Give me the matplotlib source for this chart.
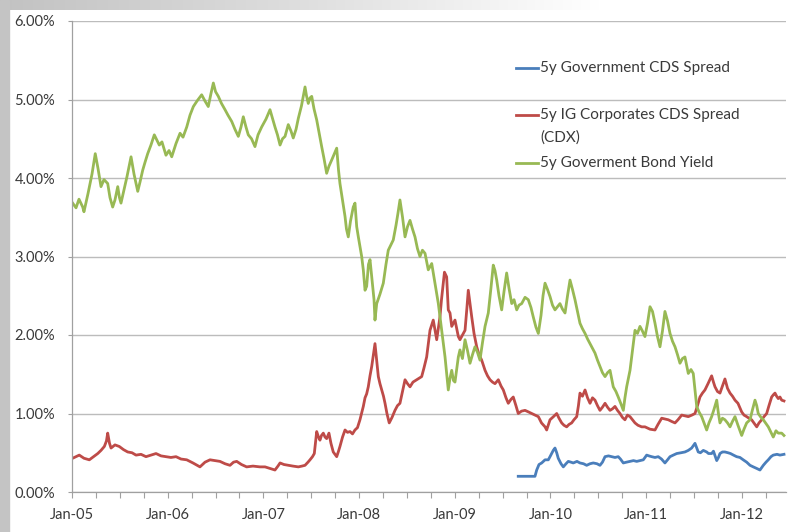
import matplotlib
matplotlib.use("Agg")
import numpy as np
import matplotlib.pyplot as plt
from matplotlib.colors import LinearSegmentedColormap
from matplotlib.ticker import FixedLocator, FuncFormatter

plt.rcParams['font.family'] = ['Lato', 'DejaVu Sans']

# --- data (time in decimal years, values in %) ---
gov_cds_t = [2009.663, 2009.754, 2009.838, 2009.856, 2009.880, 2009.908, 2009.943, 2009.977,
             2009.995, 2010.029, 2010.047, 2010.065, 2010.081, 2010.110, 2010.134, 2010.162,
             2010.186, 2010.214, 2010.238, 2010.277, 2010.308, 2010.345, 2010.378, 2010.413,
             2010.447, 2010.486, 2010.517, 2010.543, 2010.570, 2010.606, 2010.640, 2010.674,
             2010.708, 2010.731, 2010.761, 2010.794, 2010.831, 2010.867, 2010.901, 2010.935,
             2010.970, 2011.005, 2011.029, 2011.057, 2011.092, 2011.126, 2011.160, 2011.196,
             2011.223, 2011.249, 2011.283, 2011.319, 2011.364, 2011.405, 2011.440, 2011.475,
             2011.510, 2011.544, 2011.567, 2011.597, 2011.632, 2011.651, 2011.684, 2011.703,
             2011.737, 2011.755, 2011.771, 2011.797, 2011.823, 2011.855, 2011.881, 2011.912,
             2011.945, 2011.980, 2012.014, 2012.050, 2012.085, 2012.119, 2012.155, 2012.189,
             2012.224, 2012.252, 2012.276, 2012.304, 2012.328, 2012.367, 2012.398, 2012.440]
gov_cds = [0.20, 0.20, 0.20, 0.28, 0.35, 0.37, 0.41, 0.41,
           0.45, 0.53, 0.56, 0.50, 0.43, 0.36, 0.32, 0.36,
           0.39, 0.38, 0.37, 0.39, 0.37, 0.36, 0.34, 0.36,
           0.37, 0.36, 0.34, 0.38, 0.45, 0.46, 0.45, 0.44,
           0.45, 0.42, 0.37, 0.38, 0.39, 0.40, 0.39, 0.40,
           0.41, 0.47, 0.46, 0.45, 0.44, 0.45, 0.42, 0.37,
           0.41, 0.45, 0.47, 0.49, 0.50, 0.51, 0.53, 0.56,
           0.62, 0.51, 0.50, 0.53, 0.51, 0.49, 0.49, 0.52,
           0.40, 0.44, 0.49, 0.51, 0.51, 0.50, 0.49, 0.47,
           0.45, 0.44, 0.41, 0.38, 0.34, 0.32, 0.30, 0.28,
           0.34, 0.38, 0.41, 0.45, 0.47, 0.48, 0.47, 0.48]

cdx_t = [2005.007, 2005.042, 2005.076, 2005.125, 2005.181, 2005.225, 2005.269, 2005.303,
         2005.338, 2005.360, 2005.373, 2005.392, 2005.408, 2005.449, 2005.494, 2005.538,
         2005.582, 2005.627, 2005.669, 2005.721, 2005.773, 2005.825, 2005.878, 2005.930,
         2005.982, 2006.034, 2006.087, 2006.139, 2006.199, 2006.264, 2006.337, 2006.390,
         2006.442, 2006.494, 2006.546, 2006.599, 2006.651, 2006.688, 2006.721, 2006.771,
         2006.825, 2006.891, 2006.964, 2007.017, 2007.069, 2007.121, 2007.152, 2007.174,
         2007.215, 2007.260, 2007.309, 2007.365, 2007.403, 2007.435, 2007.466, 2007.487,
         2007.513, 2007.532, 2007.544, 2007.557, 2007.576, 2007.591, 2007.607, 2007.626,
         2007.644, 2007.661, 2007.685, 2007.706, 2007.730, 2007.766, 2007.785, 2007.800,
         2007.827, 2007.853, 2007.879, 2007.905, 2007.931, 2007.957, 2007.983, 2008.009,
         2008.030, 2008.044, 2008.062, 2008.079, 2008.096, 2008.114, 2008.132, 2008.150,
         2008.166, 2008.182, 2008.201, 2008.218, 2008.236, 2008.255, 2008.271, 2008.291,
         2008.315, 2008.344, 2008.375, 2008.401, 2008.427, 2008.454, 2008.480, 2008.506,
         2008.532, 2008.563, 2008.602, 2008.626, 2008.654, 2008.678, 2008.706, 2008.725,
         2008.741, 2008.775, 2008.811, 2008.845, 2008.861, 2008.880, 2008.892, 2008.915,
         2008.932, 2008.950, 2008.968, 2009.002, 2009.037, 2009.054, 2009.080, 2009.107,
         2009.127, 2009.141, 2009.159, 2009.177, 2009.201, 2009.229, 2009.253, 2009.281,
         2009.316, 2009.342, 2009.368, 2009.394, 2009.420, 2009.455, 2009.483, 2009.507,
         2009.535, 2009.559, 2009.587, 2009.611, 2009.639, 2009.663, 2009.697, 2009.734,
         2009.770, 2009.803, 2009.838, 2009.873, 2009.906, 2009.943, 2009.960, 2009.995,
         2010.031, 2010.065, 2010.089, 2010.117, 2010.141, 2010.169, 2010.193, 2010.221,
         2010.245, 2010.274, 2010.292, 2010.308, 2010.334, 2010.361, 2010.387, 2010.413,
         2010.439, 2010.465, 2010.491, 2010.517, 2010.543, 2010.570, 2010.596, 2010.622,
         2010.648, 2010.674, 2010.700, 2010.726, 2010.752, 2010.778, 2010.804, 2010.831,
         2010.857, 2010.883, 2010.914, 2010.953, 2010.987, 2011.040, 2011.092, 2011.123,
         2011.162, 2011.196, 2011.231, 2011.264, 2011.301, 2011.332, 2011.371, 2011.405,
         2011.440, 2011.478, 2011.510, 2011.536, 2011.562, 2011.588, 2011.614, 2011.646,
         2011.684, 2011.703, 2011.719, 2011.745, 2011.771, 2011.797, 2011.823, 2011.850,
         2011.876, 2011.902, 2011.928, 2011.959, 2011.998, 2012.022, 2012.050, 2012.074,
         2012.102, 2012.126, 2012.155, 2012.179, 2012.207, 2012.231, 2012.259, 2012.283,
         2012.311, 2012.330, 2012.346, 2012.363, 2012.380, 2012.398, 2012.416, 2012.440]
cdx = [0.43, 0.45, 0.47, 0.43, 0.41, 0.45, 0.49, 0.53,
       0.58, 0.65, 0.75, 0.62, 0.56, 0.60, 0.58, 0.54,
       0.51, 0.50, 0.47, 0.48, 0.45, 0.47, 0.49, 0.46,
       0.45, 0.44, 0.45, 0.42, 0.41, 0.37, 0.32, 0.38,
       0.41, 0.40, 0.39, 0.36, 0.34, 0.38, 0.39, 0.35,
       0.32, 0.33, 0.32, 0.32, 0.30, 0.28, 0.33, 0.37,
       0.35, 0.34, 0.33, 0.32, 0.33, 0.34, 0.38, 0.41,
       0.45, 0.49, 0.62, 0.77, 0.70, 0.66, 0.72, 0.75,
       0.70, 0.68, 0.75, 0.62, 0.51, 0.45, 0.52, 0.58,
       0.70, 0.79, 0.76, 0.77, 0.74, 0.79, 0.82, 0.92,
       1.02, 1.09, 1.20, 1.25, 1.34, 1.48, 1.60, 1.75,
       1.89, 1.70, 1.47, 1.38, 1.30, 1.22, 1.13, 1.00,
       0.88, 0.95, 1.04, 1.10, 1.13, 1.28, 1.43, 1.38,
       1.34, 1.40, 1.43, 1.45, 1.47, 1.58, 1.72, 1.90,
       2.06, 2.19, 1.94, 2.23, 2.45, 2.66, 2.80, 2.74,
       2.32, 2.28, 2.11, 2.19, 1.98, 1.94, 2.00, 2.06,
       2.35, 2.57, 2.40, 2.23, 2.02, 1.85, 1.75, 1.68,
       1.55, 1.48, 1.43, 1.40, 1.38, 1.43, 1.35, 1.30,
       1.20, 1.13, 1.18, 1.21, 1.10, 1.00, 1.03, 1.04,
       1.02, 1.00, 0.98, 0.96, 0.88, 0.83, 0.79, 0.92,
       0.96, 1.00, 0.94, 0.88, 0.85, 0.83, 0.86, 0.88,
       0.92, 0.96, 1.10, 1.26, 1.22, 1.30, 1.20, 1.13,
       1.20, 1.17, 1.10, 1.04, 1.08, 1.13, 1.08, 1.04,
       1.06, 1.09, 1.04, 1.00, 0.95, 0.92, 0.98, 0.96,
       0.92, 0.88, 0.85, 0.83, 0.83, 0.80, 0.79, 0.86,
       0.94, 0.93, 0.92, 0.90, 0.88, 0.92, 0.98, 0.97,
       0.96, 0.98, 1.00, 1.10, 1.21, 1.26, 1.30, 1.38,
       1.48, 1.40, 1.34, 1.28, 1.26, 1.35, 1.44, 1.32,
       1.26, 1.22, 1.17, 1.13, 1.02, 0.98, 0.96, 0.94,
       0.92, 0.88, 0.83, 0.88, 0.92, 0.96, 1.00, 1.10,
       1.21, 1.24, 1.26, 1.22, 1.19, 1.21, 1.17, 1.16]

bond_t = [2005.007, 2005.042, 2005.073, 2005.112, 2005.125, 2005.167, 2005.209, 2005.243,
          2005.272, 2005.303, 2005.334, 2005.373, 2005.397, 2005.425, 2005.449, 2005.478,
          2005.496, 2005.512, 2005.543, 2005.575, 2005.617, 2005.648, 2005.687, 2005.711,
          2005.739, 2005.763, 2005.791, 2005.825, 2005.860, 2005.888, 2005.912, 2005.940,
          2005.982, 2006.014, 2006.042, 2006.087, 2006.129, 2006.160, 2006.199, 2006.233,
          2006.268, 2006.306, 2006.355, 2006.390, 2006.424, 2006.453, 2006.477, 2006.500,
          2006.529, 2006.562, 2006.599, 2006.630, 2006.669, 2006.703, 2006.738, 2006.766,
          2006.790, 2006.818, 2006.842, 2006.876, 2006.912, 2006.944, 2006.982, 2007.027,
          2007.069, 2007.095, 2007.121, 2007.147, 2007.174, 2007.200, 2007.226, 2007.260,
          2007.288, 2007.312, 2007.341, 2007.365, 2007.398, 2007.435, 2007.450, 2007.469,
          2007.487, 2007.505, 2007.529, 2007.557, 2007.581, 2007.609, 2007.633, 2007.661,
          2007.685, 2007.714, 2007.738, 2007.766, 2007.785, 2007.800, 2007.827, 2007.853,
          2007.868, 2007.887, 2007.910, 2007.939, 2007.957, 2007.975, 2007.992, 2008.027,
          2008.044, 2008.062, 2008.079, 2008.098, 2008.114, 2008.132, 2008.156, 2008.166,
          2008.184, 2008.218, 2008.253, 2008.281, 2008.305, 2008.333, 2008.357, 2008.386,
          2008.406, 2008.427, 2008.454, 2008.480, 2008.506, 2008.532, 2008.558, 2008.584,
          2008.610, 2008.636, 2008.662, 2008.689, 2008.723, 2008.759, 2008.793, 2008.828,
          2008.863, 2008.898, 2008.932, 2008.950, 2008.968, 2008.986, 2009.002, 2009.037,
          2009.054, 2009.080, 2009.107, 2009.133, 2009.159, 2009.185, 2009.211, 2009.237,
          2009.263, 2009.289, 2009.316, 2009.350, 2009.378, 2009.402, 2009.420, 2009.438,
          2009.462, 2009.490, 2009.514, 2009.542, 2009.566, 2009.595, 2009.619, 2009.647,
          2009.671, 2009.699, 2009.734, 2009.768, 2009.796, 2009.820, 2009.848, 2009.873,
          2009.901, 2009.922, 2009.943, 2009.969, 2009.995, 2010.021, 2010.047, 2010.073,
          2010.099, 2010.125, 2010.152, 2010.178, 2010.204, 2010.230, 2010.256, 2010.282,
          2010.308, 2010.334, 2010.361, 2010.387, 2010.413, 2010.439, 2010.465, 2010.491,
          2010.517, 2010.543, 2010.570, 2010.596, 2010.622, 2010.656, 2010.684, 2010.708,
          2010.737, 2010.761, 2010.778, 2010.796, 2010.831, 2010.857, 2010.883, 2010.909,
          2010.935, 2010.961, 2010.987, 2011.014, 2011.040, 2011.066, 2011.092, 2011.118,
          2011.144, 2011.170, 2011.196, 2011.223, 2011.249, 2011.275, 2011.301, 2011.327,
          2011.353, 2011.379, 2011.405, 2011.440, 2011.468, 2011.492, 2011.510, 2011.528,
          2011.552, 2011.580, 2011.604, 2011.632, 2011.656, 2011.684, 2011.708, 2011.737,
          2011.755, 2011.771, 2011.797, 2011.823, 2011.850, 2011.876, 2011.902, 2011.928,
          2011.959, 2011.998, 2012.022, 2012.050, 2012.085, 2012.111, 2012.137, 2012.155,
          2012.171, 2012.200, 2012.224, 2012.247, 2012.276, 2012.304, 2012.328, 2012.356,
          2012.380, 2012.416, 2012.440]
bond = [3.68, 3.62, 3.73, 3.63, 3.57, 3.80, 4.05, 4.31,
        4.12, 3.89, 3.98, 3.93, 3.75, 3.63, 3.72, 3.89,
        3.75, 3.68, 3.85, 4.02, 4.27, 4.05, 3.83, 3.95,
        4.10, 4.20, 4.31, 4.42, 4.55, 4.48, 4.42, 4.46,
        4.29, 4.35, 4.27, 4.44, 4.57, 4.52, 4.65, 4.80,
        4.91, 4.98, 5.06, 4.98, 4.91, 5.08, 5.21, 5.10,
        5.04, 4.95, 4.87, 4.80, 4.72, 4.62, 4.53, 4.65,
        4.78, 4.65, 4.55, 4.50, 4.40, 4.55, 4.65, 4.75,
        4.87, 4.76, 4.65, 4.55, 4.42, 4.50, 4.53, 4.68,
        4.60, 4.51, 4.62, 4.76, 4.92, 5.16, 5.05, 4.95,
        5.02, 5.04, 4.88, 4.74, 4.58, 4.40, 4.25, 4.06,
        4.15, 4.23, 4.30, 4.38, 4.10, 3.93, 3.72, 3.51,
        3.35, 3.25, 3.45, 3.63, 3.68, 3.38, 3.25, 3.00,
        2.83, 2.57, 2.62, 2.90, 2.96, 2.74, 2.45, 2.19,
        2.40, 2.52, 2.66, 2.90, 3.08, 3.15, 3.21, 3.40,
        3.55, 3.72, 3.50, 3.25, 3.38, 3.46, 3.35, 3.25,
        3.10, 3.00, 3.08, 3.04, 2.83, 2.91, 2.66, 2.40,
        2.06, 1.72, 1.30, 1.45, 1.55, 1.42, 1.40, 1.72,
        1.81, 1.70, 1.94, 1.80, 1.64, 1.75, 1.85, 1.78,
        1.68, 1.90, 2.11, 2.28, 2.60, 2.89, 2.82, 2.70,
        2.50, 2.32, 2.55, 2.79, 2.60, 2.40, 2.45, 2.32,
        2.38, 2.40, 2.48, 2.45, 2.35, 2.23, 2.10, 2.02,
        2.25, 2.50, 2.66, 2.58, 2.49, 2.38, 2.32, 2.36,
        2.40, 2.33, 2.28, 2.50, 2.70, 2.58, 2.45, 2.30,
        2.15, 2.08, 2.02, 1.95, 1.89, 1.83, 1.77, 1.68,
        1.60, 1.52, 1.47, 1.52, 1.55, 1.34, 1.28, 1.21,
        1.12, 1.04, 1.20, 1.34, 1.55, 1.80, 2.06, 2.02,
        2.11, 2.05, 1.98, 2.15, 2.36, 2.30, 2.15, 1.98,
        1.85, 2.05, 2.30, 2.18, 2.02, 1.92, 1.85, 1.75,
        1.64, 1.70, 1.72, 1.51, 1.56, 1.51, 1.30, 1.09,
        1.02, 0.96, 0.88, 0.79, 0.88, 0.96, 1.05, 1.17,
        1.00, 0.88, 0.94, 0.92, 0.88, 0.83, 0.90, 0.96,
        0.85, 0.72, 0.80, 0.88, 0.92, 1.05, 1.17, 1.10,
        1.00, 0.95, 0.92, 0.88, 0.83, 0.76, 0.70, 0.78,
        0.75, 0.75, 0.72]

series_labels = ['5y Government CDS Spread',
                 '5y IG Corporates CDS Spread\n(CDX)',
                 '5y Goverment Bond Yield']
series_colors = ['#4a7ebb', '#be4b48', '#98b954']

year_ticks = [2005, 2006, 2007, 2008, 2009, 2010, 2011, 2012]
year_labels = ['Jan-05', 'Jan-06', 'Jan-07', 'Jan-08', 'Jan-09', 'Jan-10', 'Jan-11', 'Jan-12']
pct_ticks = [0, 1, 2, 3, 4, 5, 6]

text_color = '#3a3a3a'
grid_color = '#bcbcbc'

fig = plt.figure(figsize=(8.03, 5.32), dpi=100)

# gray frame along the top and left edges
bg = fig.add_axes([0, 0, 1, 1], zorder=-10)
bg.set_xlim(0, 803)
bg.set_ylim(532, 0)
bg.axis('off')
band = LinearSegmentedColormap.from_list('band', ['#c2c2c2', '#dedede', '#ffffff'])
bg.imshow(np.linspace(0, 1, 256)[None, :], cmap=band, aspect='auto',
          extent=[0, 600, 10, 0])
bg.axhspan(0, 10, xmin=600 / 803, xmax=1, color='white')
bg.axvspan(0, 9, color='#c4c4c4')

ax = fig.add_axes([72 / 803, 40 / 532, 714 / 803, 471 / 532])
ax.set_facecolor('white')

all_t = [gov_cds_t, cdx_t, bond_t]
all_v = [gov_cds, cdx, bond]
for t, v, color in zip(all_t, all_v, series_colors):
    ax.plot(t, v, color=color, lw=2.0, solid_joinstyle='round')

ax.set_xlim(2005.0, 2012.461)
ax.set_ylim(0, 6)

ax.yaxis.set_major_locator(FixedLocator(pct_ticks))
ax.yaxis.set_major_formatter(FuncFormatter(lambda v, _: f'{v:.2f}%'))
ax.grid(axis='y', color=grid_color, lw=1)
ax.set_axisbelow(True)

# quarterly ticks, labels on January only
quarter_ticks = np.arange(2005.0, 2012.5, 0.25)
ax.xaxis.set_major_locator(FixedLocator(year_ticks))
ax.set_xticklabels(year_labels)
ax.xaxis.set_minor_locator(FixedLocator(quarter_ticks))

ax.tick_params(axis='x', which='both', direction='out', length=4.5, width=0.8,
               color='#a0a0a0', labelsize=10.5, labelcolor=text_color, pad=7)
ax.tick_params(axis='y', which='both', direction='out', length=3, width=0.8,
               color='#a0a0a0', labelsize=10.5, labelcolor=text_color, pad=9)

for side in ['top', 'right']:
    ax.spines[side].set_visible(False)
for side in ['left', 'bottom']:
    ax.spines[side].set_color('#a0a0a0')
    ax.spines[side].set_linewidth(0.9)

# legend: each entry gets a slot of equal height, text starts at the slot top
legend_x = [0.622, 0.653]
legend_y = [0.900, 0.800, 0.699]
line_step = 0.0467
for label, color, y in zip(series_labels, series_colors, legend_y):
    ax.plot(legend_x, [y, y], color=color, lw=2.0, transform=ax.transAxes)
    for i, part in enumerate(label.split('\n')):
        ax.text(0.656, y - i * line_step, part, transform=ax.transAxes,
                va='center', ha='left', fontsize=11, color=text_color)

fig.savefig('out.png', dpi=100)
